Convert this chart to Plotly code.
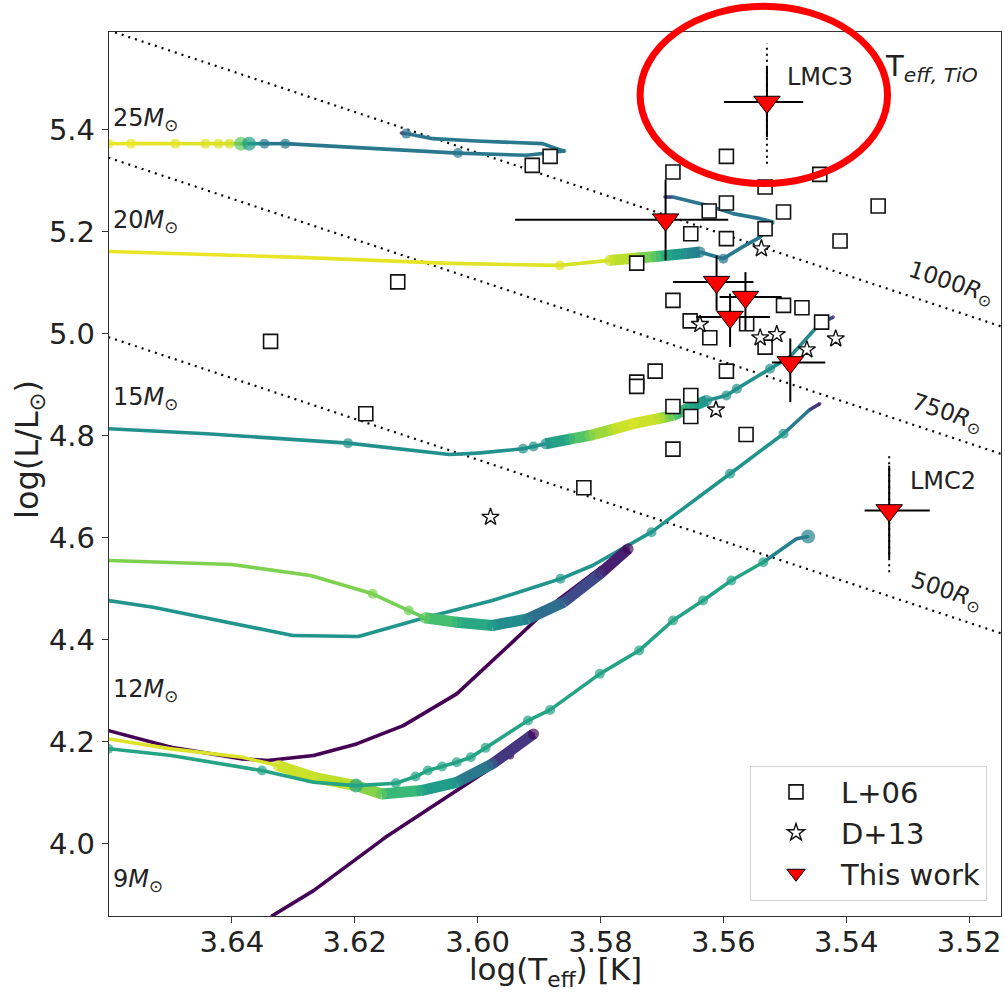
import plotly.graph_objects as go
from plotly.colors import sample_colorscale

# ---------------- data ----------------
# evolutionary tracks: log Teff, log L, colour value (0..1 on viridis)
T25 = [3.6601, 3.6564, 3.6492, 3.6443, 3.6422, 3.6404, 3.6385, 3.6372, 3.6347, 3.6313,
       3.6032, 3.5920, 3.5858, 3.5868, 3.5894, 3.6002, 3.6073, 3.6116, 3.6124]
L25 = [5.3725, 5.3725, 5.3725, 5.3725, 5.3725, 5.3725, 5.3725, 5.3725, 5.3725, 5.3725,
       5.3540, 5.3496, 5.3580, 5.3610, 5.3725, 5.3776, 5.3823, 5.3922, 5.3933]
C25 = [0.97, 0.97, 0.96, 0.95, 0.95, 0.94, 0.75, 0.55, 0.42, 0.40,
       0.40, 0.40, 0.40, 0.40, 0.40, 0.40, 0.40, 0.38, 0.05]

T20 = [3.6601, 3.6290, 3.6045, 3.5866, 3.5785, 3.5740, 3.5710, 3.5692, 3.5660, 3.5638,
       3.5600, 3.5570, 3.5540, 3.5519, 3.5540, 3.5584, 3.5627, 3.5682, 3.5695]
L20 = [5.1610, 5.1494, 5.1376, 5.1337, 5.1435, 5.1480, 5.1510, 5.1533, 5.1570, 5.1598,
       5.1469, 5.1690, 5.1892, 5.2187, 5.2254, 5.2352, 5.2515, 5.2677, 5.2677]
C20 = [0.97, 0.97, 0.96, 0.95, 0.93, 0.86, 0.72, 0.60, 0.48, 0.42,
       0.40, 0.40, 0.40, 0.40, 0.40, 0.40, 0.40, 0.38, 0.05]

T15 = [3.6601, 3.6441, 3.6211, 3.6046, 3.5999, 3.5926, 3.5909, 3.5889, 3.5850, 3.5817,
       3.5780, 3.5747, 3.5704, 3.5682, 3.5655, 3.5627, 3.5595, 3.5578, 3.5524, 3.5492,
       3.5443, 3.5421]
L15 = [4.8133, 4.8035, 4.7850, 4.7628, 4.7654, 4.7740, 4.7785, 4.7838, 4.7930, 4.8001,
       4.8120, 4.8231, 4.8335, 4.8394, 4.8550, 4.8688, 4.8786, 4.8918, 4.9310, 4.9538,
       5.0193, 5.0323]
C15 = [0.50, 0.50, 0.50, 0.50, 0.50, 0.50, 0.50, 0.50, 0.65, 0.80,
       0.90, 0.95, 0.90, 0.75, 0.60, 0.50, 0.50, 0.50, 0.50, 0.50,
       0.45, 0.10]

T12a = [3.6601, 3.6400, 3.6272, 3.6171, 3.6112, 3.6086, 3.6034, 3.5976, 3.5918, 3.5860,
        3.5801, 3.5755]
L12a = [4.5548, 4.5470, 4.5254, 4.4895, 4.4567, 4.4424, 4.4338, 4.4273, 4.4404, 4.4730,
        4.5287, 4.5778]
C12a = [0.80, 0.80, 0.80, 0.80, 0.78, 0.75, 0.65, 0.55, 0.42, 0.30, 0.15, 0.02]

T12b = [3.6601, 3.6528, 3.6301, 3.6194, 3.6092, 3.5976, 3.5865, 3.5813, 3.5717, 3.5589,
        3.5502, 3.5460, 3.5443]
L12b = [4.4763, 4.4632, 4.4077, 4.4057, 4.4404, 4.4763, 4.5189, 4.5450, 4.6104, 4.7250,
        4.8035, 4.8500, 4.8623]
C12b = [0.52, 0.52, 0.52, 0.52, 0.52, 0.52, 0.52, 0.52, 0.52, 0.52, 0.52, 0.30, 0.05]

T12c = [3.6601, 3.6499, 3.6383, 3.6342, 3.6267, 3.6197, 3.6121, 3.6034, 3.5958, 3.5877,
        3.5801, 3.5755]
L12c = [4.2212, 4.1885, 4.1657, 4.1624, 4.1722, 4.1951, 4.2310, 4.2932, 4.3782, 4.4699,
        4.5391, 4.5778]
C12c = [0.0] * 12

T9a = [3.6601, 3.6499, 3.6383, 3.6325, 3.6267, 3.6198, 3.6156, 3.6092, 3.6034, 3.5976, 3.5909]
L9a = [4.2049, 4.1853, 4.1688, 4.1526, 4.1296, 4.1133, 4.0970, 4.1035, 4.1198, 4.1559, 4.2147]
C9a = [0.95, 0.95, 0.95, 0.93, 0.92, 0.88, 0.75, 0.60, 0.50, 0.30, 0.02]

T9b = [3.6601, 3.6499, 3.6351, 3.6267, 3.6198, 3.6133, 3.6101, 3.6081, 3.6058, 3.6034,
       3.6011, 3.5987, 3.5918, 3.5882, 3.5801, 3.5737, 3.5682, 3.5633, 3.5587, 3.5535,
       3.5481, 3.5462]
L9b = [4.1857, 4.1722, 4.1428, 4.1198, 4.1133, 4.1178, 4.1310, 4.1428, 4.1506, 4.1590,
       4.1689, 4.1873, 4.2409, 4.2618, 4.3325, 4.3782, 4.4371, 4.4763, 4.5156, 4.5515,
       4.5974, 4.6019]
C9b = [0.58] * 20 + [0.32, 0.45]

T9c = [3.6335, 3.6267, 3.6150, 3.6034, 3.5947, 3.5909]
L9c = [3.8575, 3.9073, 4.0118, 4.1035, 4.1722, 4.2147]
C9c = [0.0] * 6

# observations
L06_T = [3.5911, 3.5882, 3.5595, 3.5682, 3.5443, 3.5532, 3.5595, 3.5623, 3.5502, 3.5348,
         3.5653, 3.5595, 3.5532, 3.5410, 3.5741, 3.5682, 3.5502, 3.5472, 3.5440, 3.5654,
         3.5622, 3.5562, 3.5532, 3.5711, 3.5741, 3.5741, 3.5595, 3.5653, 3.5682, 3.5653,
         3.5563, 3.5682, 3.5827, 3.6182, 3.6130, 3.6337]
L06_L = [5.3299, 5.3476, 5.3476, 5.3168, 5.3123, 5.2874, 5.2560, 5.2403, 5.2383, 5.2501,
         5.1959, 5.1861, 5.2057, 5.1814, 5.1382, 5.0650, 5.0552, 5.0507, 5.0225, 5.0248,
         4.9918, 5.0193, 4.9734, 4.9263, 4.9047, 4.8963, 4.9263, 4.8786, 4.8570, 4.8374,
         4.8021, 4.7732, 4.6975, 4.8427, 5.1013, 4.9846]

D13_T = [3.5538, 3.5638, 3.5540, 3.5513, 3.5464, 3.5417, 3.5612, 3.5979]
D13_L = [5.1665, 5.0180, 4.9918, 4.9983, 4.9683, 4.9899, 4.8505, 4.6398]

TW_T = [3.5529, 3.5694, 3.5611, 3.5564, 3.5589, 3.5491, 3.5330]
TW_L = [5.4542, 5.2234, 5.1009, 5.0715, 5.0323, 4.9434, 4.6530]
TW_T_hot = [0.0070, 0.0245, 0.0071, 0.0042, 0.0055, 0.0030, 0.0040]   # toward higher Teff
TW_T_cool = [0.0059, 0.0102, 0.0060, 0.0059, 0.0065, 0.0057, 0.0066]
TW_L_up = [0.0687, 0.0785, 0.052, 0.049, 0.046, 0.047, 0.088]
TW_L_dn = [0.0687, 0.0800, 0.056, 0.065, 0.059, 0.078, 0.094]
# TiO-based (dotted) luminosity ranges for LMC3 and LMC2
TIO_idx = [0, 6]
TIO_up = [0.1146, 0.111]
TIO_dn = [0.121, 0.121]

# constant-radius lines (end points)
R_labels = ["1000", "750", "500"]
R_T = [3.6601, 3.5148]
R_L = [[5.595, 5.014], [5.345, 4.764], [4.993, 4.412]]
R_lab_T = [3.5229, 3.5236, 3.5237]
R_lab_L = [5.0974, 4.8413, 4.4940]

mass_labels = ["25", "20", "15", "12", "9"]
mass_lab_L = [5.4202, 5.2196, 4.8727, 4.2997, 3.927]

x_ticks = [3.64, 3.62, 3.60, 3.58, 3.56, 3.54, 3.52]
y_ticks = [4.0, 4.2, 4.4, 4.6, 4.8, 5.0, 5.2, 5.4]

# ---------------- figure ----------------
FONT = "DejaVu Sans"
TXT = "#222"
fig = go.Figure()


def vir(v):
    return sample_colorscale("Viridis", [min(max(v, 0.0), 1.0)])[0]


def add_track(T, L, C, thick=(), dots=(), big=(), thin=3.6, thickw=11, dotsize=10, bigsize=14):
    n = len(T)

    def is_thick(i):
        return any(a <= i < b for a, b in thick)

    for i in range(n - 1):
        fig.add_trace(go.Scatter(
            x=[T[i], T[i + 1]], y=[L[i], L[i + 1]], mode="lines",
            line=dict(color=vir((C[i] + C[i + 1]) / 2), width=thickw if is_thick(i) else thin),
            hoverinfo="skip", showlegend=False))
    sizes = [thickw if (is_thick(i) or is_thick(i - 1)) else thin for i in range(n)]
    fig.add_trace(go.Scatter(
        x=T, y=L, mode="markers",
        marker=dict(color=[vir(c) for c in C], size=sizes, line=dict(width=0)),
        hoverinfo="skip", showlegend=False))
    if dots:
        fig.add_trace(go.Scatter(
            x=[T[i] for i in dots], y=[L[i] for i in dots], mode="markers",
            marker=dict(color=[vir(C[i]) for i in dots],
                        size=[bigsize if i in big else dotsize for i in dots], line=dict(width=0)),
            hoverinfo="skip", showlegend=False))


# radius lines
for k in range(3):
    fig.add_trace(go.Scatter(x=R_T, y=R_L[k], mode="lines",
                             line=dict(color="black", width=2.2, dash="2px,5px"),
                             hoverinfo="skip", showlegend=False))

add_track(T9c, L9c, C9c, dots=[4], dotsize=8)
add_track(T12c, L12c, C12c)
add_track(T9a, L9a, C9a, thick=[(3, 10)])
add_track(T9b, L9b, C9b, dots=[0, 2, 4, 5, 6, 7, 8, 9, 10, 11, 12, 13, 14, 15, 16, 17, 18, 19, 21],
          big=[4, 21])
add_track(T12b, L12b, C12b, dots=[6, 8, 9, 10])
add_track(T12a, L12a, C12a, thick=[(5, 11)], dots=[3, 4])
add_track(T15, L15, C15, thick=[(7, 15)], dots=[2, 5, 6, 16, 17, 18])
add_track(T20, L20, C20, thick=[(4, 9)], dots=[3, 10])
add_track(T25, L25, C25, dots=[0, 1, 2, 3, 4, 5, 6, 7, 8, 9, 10, 17], big=[6, 7])

# observations
fig.add_trace(go.Scatter(x=L06_T, y=L06_L, mode="markers", name="L+06",
                         marker=dict(symbol="square", size=14, color="white",
                                     line=dict(color="#111", width=1.6))))
fig.add_trace(go.Scatter(x=D13_T, y=D13_L, mode="markers", name="D+13",
                         marker=dict(symbol="star", size=13, color="white",
                                     line=dict(color="#111", width=1.4))))
for j, i in enumerate(TIO_idx):
    fig.add_trace(go.Scatter(x=[TW_T[i], TW_T[i]], y=[TW_L[i] - TIO_dn[j], TW_L[i] + TIO_up[j]],
                             mode="lines", line=dict(color="black", width=2, dash="2px,4px"),
                             hoverinfo="skip", showlegend=False))
fig.add_trace(go.Scatter(
    x=TW_T, y=TW_L, mode="markers", name="This work",
    marker=dict(symbol="triangle-down", size=23, color="red", line=dict(color="black", width=1)),
    error_x=dict(type="data", symmetric=False, array=TW_T_hot, arrayminus=TW_T_cool,
                 color="black", thickness=2, width=0),
    error_y=dict(type="data", symmetric=False, array=TW_L_up, arrayminus=TW_L_dn,
                 color="black", thickness=2, width=0)))

ann = []
for m, yl in zip(mass_labels, mass_lab_L):
    ann.append(dict(x=3.6596, y=yl, xref="x", yref="y", xanchor="left", yanchor="middle",
                    text=f"{m}<i>M</i><sub>⊙</sub>", showarrow=False,
                    font=dict(family=FONT, size=24, color=TXT)))
for lab, xt, yt in zip(R_labels, R_lab_T, R_lab_L):
    ann.append(dict(x=xt, y=yt, xref="x", yref="y", text=f"{lab}<i>R</i><sub>⊙</sub>",
                    showarrow=False, textangle=18.4,
                    font=dict(family=FONT, size=23, color=TXT)))
ann.append(dict(x=3.5500, y=5.5026, xref="x", yref="y", xanchor="left", text="LMC3",
                showarrow=False, font=dict(family=FONT, size=24, color=TXT)))
ann.append(dict(x=3.5299, y=4.7099, xref="x", yref="y", xanchor="left", text="LMC2",
                showarrow=False, font=dict(family=FONT, size=24, color=TXT)))
ann.append(dict(x=3.5340, y=5.5203, xref="x", yref="y", xanchor="left",
                text="T<sub><i>eff, TiO</i></sub>",
                showarrow=False, font=dict(family=FONT, size=29, color=TXT)))
# axis titles
ann.append(dict(x=0.5, y=0, xref="paper", yref="paper", yanchor="middle", yshift=-55,
                text="log(T<sub>eff</sub>) [K]", showarrow=False,
                font=dict(family=FONT, size=31, color=TXT)))
ann.append(dict(x=0, y=0.5, xref="paper", yref="paper", xanchor="center", xshift=-80, yshift=24,
                text="log(L/L<sub>⊙</sub>)", textangle=-90, showarrow=False,
                font=dict(family=FONT, size=32, color=TXT)))

fig.update_layout(
    width=1005, height=993,
    margin=dict(l=109, r=4, t=32, b=77),
    paper_bgcolor="white", plot_bgcolor="white",
    font=dict(family=FONT, size=28, color=TXT),
    annotations=ann,
    shapes=[dict(type="circle", xref="paper", yref="paper",
                 x0=0.5954, x1=0.8728, y0=0.8285, y1=1.0291,
                 line=dict(color="red", width=7), layer="above")],
    legend=dict(x=0.9843, y=0.0175, xanchor="right", yanchor="bottom",
                bgcolor="white", bordercolor="#d4d4d4", borderwidth=1,
                font=dict(family=FONT, size=29, color=TXT), itemwidth=80),
    showlegend=True,
)
fig.update_xaxes(range=[3.6600, 3.5148], tickvals=x_ticks, ticktext=[f"{v:.2f}" for v in x_ticks],
                 showgrid=False, zeroline=False, showline=True, mirror=True,
                 linecolor="#333", linewidth=1.3, ticks="outside", ticklen=6, tickwidth=1.2,
                 tickcolor="#333", tickfont=dict(family=FONT, size=29, color=TXT),
                 ticklabelstandoff=-6)
fig.update_yaxes(range=[3.8575, 5.5915], tickvals=y_ticks, ticktext=[f"{v:.1f}" for v in y_ticks],
                 showgrid=False, zeroline=False, showline=True, mirror=True,
                 linecolor="#333", linewidth=1.3, ticks="outside", ticklen=6, tickwidth=1.2,
                 tickcolor="#333", tickfont=dict(family=FONT, size=29, color=TXT),
                 ticklabelstandoff=1)

fig.write_html("out.html", config={"displayModeBar": False},
               post_script="document.body.style.margin='0px';")
